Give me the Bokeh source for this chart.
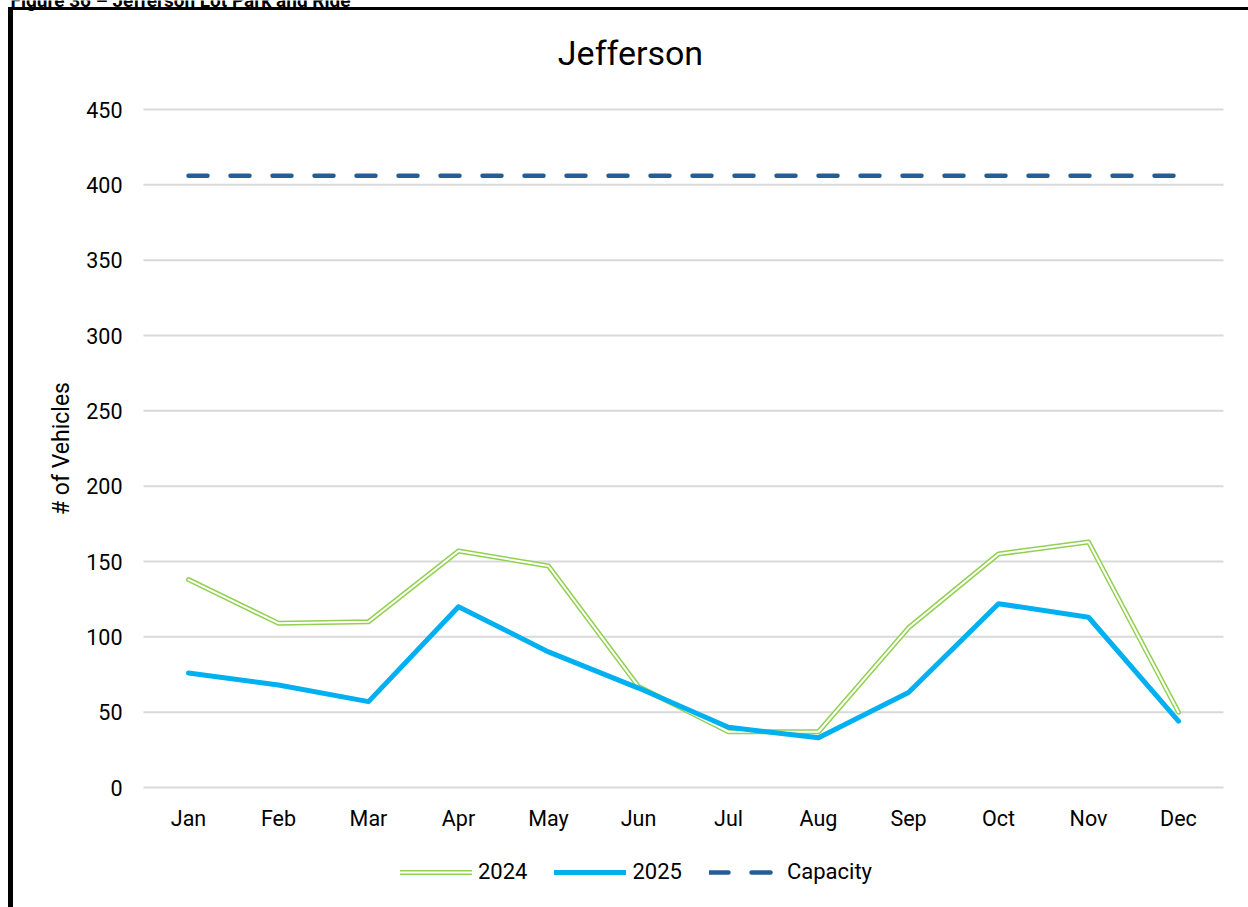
from bokeh.plotting import figure
from bokeh.models import (Range1d, FixedTicker, Legend, LegendItem, Label)
from bokeh.embed import file_html
from bokeh.resources import INLINE

months = ["Jan", "Feb", "Mar", "Apr", "May", "Jun",
          "Jul", "Aug", "Sep", "Oct", "Nov", "Dec"]
vehicles_2024 = [138, 109, 110, 157, 147, 67, 37, 37, 106, 155, 163, 50]
vehicles_2025 = [76, 68, 57, 120, 90, 66, 40, 33, 63, 122, 113, 44]
capacity = [406] * 12
y_ticks = [0, 50, 100, 150, 200, 250, 300, 350, 400, 450]
caption = "Figure 36 – Jefferson Lot Park and Ride"

FONT = "Roboto"
W, H = 1248, 907
# plot-area geometry in page pixels
AREA_LEFT, AREA_RIGHT = 143, 1223
Y0_PX, YMAX_PX = 787, 109

# one slot per month, category centred in its slot
slot_px = (AREA_RIGHT - AREA_LEFT) / len(months)
x_pos = [i + 0.5 for i in range(len(months))]
y_top = y_ticks[-1]
px_per_unit = (Y0_PX - YMAX_PX) / y_top

p = figure(width=W, height=H,
           x_range=Range1d(-AREA_LEFT / slot_px,
                           len(months) + (W - AREA_RIGHT) / slot_px),
           y_range=Range1d(-(H - Y0_PX) / px_per_unit,
                           y_top + YMAX_PX / px_per_unit),
           output_backend="svg", toolbar_location=None, title_location=None,
           min_border=0)
p.outline_line_color = None
p.background_fill_color = None
p.border_fill_color = None
# chart box rules (top and left), painted behind the transparent canvas
p.styles = {
    "background-color": "white",
    "background-image": "linear-gradient(black,black), linear-gradient(black,black)",
    "background-position": "8px 7px, 8px 7px",
    "background-size": "1240px 3px, 5px 900px",
    "background-repeat": "no-repeat",
}

# axes pinned at the data origin
p.xaxis.fixed_location = 0
p.xaxis.ticker = FixedTicker(ticks=x_pos)
p.xaxis.major_label_overrides = dict(zip(x_pos, months))
p.xaxis.axis_line_color = None
p.xaxis.major_tick_line_color = None
p.xaxis.minor_tick_line_color = None
p.xaxis.major_label_standoff = 12
p.xaxis.major_label_text_font = FONT
p.xaxis.major_label_text_font_size = "21.5px"
p.xaxis.major_label_text_color = "black"

p.yaxis.fixed_location = 0
p.yaxis.bounds = (y_ticks[0], y_ticks[-1])
p.yaxis.ticker = FixedTicker(ticks=y_ticks)
p.yaxis.axis_line_color = None
p.yaxis.major_tick_line_color = None
p.yaxis.minor_tick_line_color = None
p.yaxis.major_label_standoff = 15
p.yaxis.major_label_text_font = FONT
p.yaxis.major_label_text_font_size = "21.5px"
p.yaxis.major_label_text_color = "black"
p.yaxis.axis_label = "# of Vehicles"
p.yaxis.axis_label_text_font = FONT
p.yaxis.axis_label_text_font_size = "23px"
p.yaxis.axis_label_text_font_style = "normal"
p.yaxis.axis_label_text_color = "black"
p.yaxis.axis_label_standoff = 8

p.grid.visible = False
# horizontal gridlines across the month slots only
p.segment(x0=[0] * len(y_ticks), x1=[len(months)] * len(y_ticks),
          y0=y_ticks, y1=y_ticks, line_color="#d9d9d9", line_width=2)

# series
g24_outer = p.line(x_pos, vehicles_2024, line_color="#92d050", line_width=5,
                   line_join="round", line_cap="round")
g24_inner = p.line(x_pos, vehicles_2024, line_color="white", line_width=2,
                   line_join="round", line_cap="round")
g25 = p.line(x_pos, vehicles_2025, line_color="#00b0f0", line_width=5,
             line_join="round", line_cap="round")
gcap = p.line(x_pos, capacity, line_color="#245e97", line_width=4.5,
              line_dash="19 23", line_cap="round")

legend = Legend(items=[
    LegendItem(label="2024", renderers=[g24_outer, g24_inner]),
    LegendItem(label="2025", renderers=[g25]),
    LegendItem(label="Capacity", renderers=[gcap]),
], orientation="horizontal", location=(400, 23), glyph_width=72,
   glyph_height=22, label_height=22, label_standoff=6, spacing=27,
   padding=0, margin=0, border_line_color=None, background_fill_alpha=0,
   label_text_font=FONT, label_text_font_size="22px", label_text_color="black")
p.add_layout(legend, "center")

# chart title
p.add_layout(Label(x=630, y=52, x_units="canvas", y_units="canvas",
                   text="Jefferson", text_font=FONT, text_font_size="34px",
                   text_align="center", text_baseline="middle",
                   text_color="black"))

# figure caption, running off the top of the page
p.add_layout(Label(x=10, y=0, x_units="canvas", y_units="canvas",
                   text=caption, text_font=FONT, text_font_size="19px",
                   text_font_style="bold", text_align="left",
                   text_baseline="alphabetic", text_color="black"))

open("out.html", "w").write(file_html(p, INLINE))
